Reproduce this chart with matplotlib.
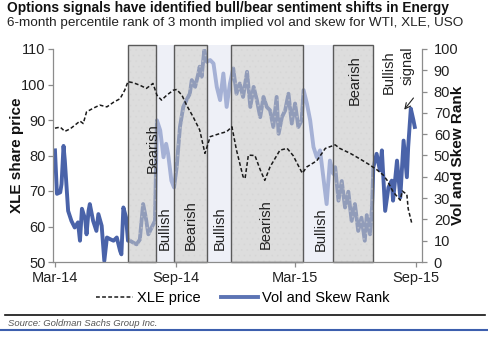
import numpy as np
import matplotlib
matplotlib.use("Agg")
import matplotlib.pyplot as plt
import matplotlib.dates as mdates
from matplotlib.patches import Rectangle
from matplotlib.lines import Line2D

plt.rcParams["font.family"] = ["Liberation Sans", "DejaVu Sans"]
plt.rcParams["hatch.linewidth"] = 0.6

# ---- data -------------------------------------------------------------
start = np.datetime64("2014-03-01")

# XLE share price (days after 1 Mar 2014)
xle_day = [0, 8, 15, 23, 30, 38, 43, 48, 58, 68,
           79, 89, 99, 106, 111, 119, 129, 139, 149, 155,
           162, 170, 180, 185, 193, 200, 210, 220, 228, 236,
           251, 261, 269, 276, 286, 289, 294, 304, 312, 319,
           327, 342, 353, 362, 376, 383, 398, 411, 426, 433,
           449, 464, 479, 490, 499, 505, 514, 525, 528, 535,
           537, 543]
xle_price = [87.7, 88, 86.8, 87.5, 88.5, 89.7, 89, 92.3, 93.3, 94.2,
             93.7, 95, 96, 98.4, 100.8, 100.5, 99.8, 98.9, 100.3, 97,
             95.6, 97, 98.4, 98.6, 97, 94.2, 90.9, 87.2, 80.6, 85.3,
             86.2, 86.7, 88.1, 81.5, 74, 73.5, 80.1, 80, 76, 73,
             76.8, 81.5, 82, 80, 75, 76.8, 78.5, 82, 83, 82,
             80.6, 79, 77.3, 75.9, 74.5, 73, 69.8, 67.4, 70, 69,
             65, 60.5]

# Vol and skew percentile rank (days after 1 Mar 2014)
rank_day = [0, 3, 8, 10, 13, 15, 20, 25, 30, 35,
            38, 41, 46, 48, 51, 53, 58, 63, 66, 71,
            75, 79, 84, 89, 94, 99, 101, 104, 108, 111,
            114, 119, 124, 129, 134, 138, 142, 147, 152, 155,
            160, 165, 169, 172, 177, 181, 185, 190, 195, 200,
            205, 208, 213, 218, 220, 223, 227, 231, 236, 241,
            246, 251, 256, 261, 266, 271, 276, 281, 286, 292,
            297, 302, 307, 312, 317, 322, 327, 332, 337, 340,
            345, 350, 355, 360, 365, 370, 375, 378, 383, 388,
            393, 398, 403, 408, 413, 418, 423, 426, 431, 436,
            441, 446, 451, 456, 461, 466, 471, 474, 479, 482,
            484, 489, 494, 497, 502, 507, 512, 514, 520, 525,
            530, 535, 537, 541, 545, 547]
rank_value = [52.4, 32, 32.7, 36.6, 54.5, 47.6, 24, 19.3, 16.2, 18.6,
              10, 25, 20, 13, 24, 27.2, 19.3, 14.6, 22.5, 17,
              0.5, 11.5, 10.7, 10, 11.5, 5.2, 3.6, 25.6, 21, 10,
              10, 9.1, 8.3, 10.5, 27.2, 21, 13, 16.2, 19.3, 66.5,
              61.8, 49.2, 55.5, 50.8, 38.2, 35, 44.5, 63.4, 72.8, 76,
              79, 85.4, 82.2, 88.5, 91.7, 87, 99.5, 94, 94.8, 93.2,
              82.2, 76, 88.5, 72.8, 83.8, 90.9, 79, 83.8, 77.5, 89.3,
              72.8, 82.2, 76, 68, 77.5, 72.8, 71.2, 63.4, 77.5, 60.2,
              68, 71.2, 79, 65, 74.4, 63.4, 66.5, 80.7, 74.4, 66.5,
              54, 49.2, 52.4, 39.8, 27.2, 47.6, 41.4, 44.5, 28.8, 38,
              25.6, 33, 19.3, 27.2, 14.6, 20.8, 10, 22, 13, 25.6,
              44.5, 50.8, 43, 52.4, 24, 35, 38.2, 28.8, 47.6, 30.3,
              57, 39.8, 54, 72, 66.5, 63.4]

# Sentiment regimes
regime_start = ["2014-06-20", "2014-08-02", "2014-08-29", "2014-10-18",
                "2014-11-24", "2015-03-13", "2015-04-28"]
regime_end = ["2014-08-02", "2014-08-29", "2014-10-18", "2014-11-24",
              "2015-03-13", "2015-04-28", "2015-06-28"]
regime_label = ["Bearish", "Bullish", "Bearish", "Bullish",
                "Bearish", "Bullish", "Bearish"]

tick_dates = ["2014-03-01", "2014-09-01", "2015-03-01", "2015-09-01"]

# ---- figure -------------------------------------------------------------
W, H = 488, 337
fig = plt.figure(figsize=(W / 100, H / 100), dpi=100)
ax = fig.add_axes([53 / W, 1 - 262 / H, (422 - 53) / W, (262 - 49) / H])
ax2 = ax.twinx()
ax.set_zorder(ax2.get_zorder() + 1)
ax.patch.set_visible(False)

xle_dates = start + np.array(xle_day).astype("timedelta64[D]")
rank_dates = start + np.array(rank_day).astype("timedelta64[D]")

dark_blue = "#4a63a9"
ax2.plot(rank_dates, rank_value, color=dark_blue, lw=2.8,
         solid_joinstyle="round", zorder=2)

# regime shading over the rank line
for s, e, lab in zip(regime_start, regime_end, regime_label):
    x0 = mdates.date2num(np.datetime64(s))
    x1 = mdates.date2num(np.datetime64(e))
    if lab == "Bearish":
        ax2.add_patch(Rectangle((x0, 0), x1 - x0, 102, facecolor="#c6c6c6",
                                alpha=0.58, lw=0, zorder=3, clip_on=False))
        ax2.add_patch(Rectangle((x0, 0), x1 - x0, 102, facecolor="none",
                                edgecolor="#d2d2d2", hatch="...", lw=0,
                                alpha=0.4, zorder=3.5, clip_on=False))
        ax2.add_patch(Rectangle((x0, 0), x1 - x0, 102, fill=False,
                                edgecolor="#5a5a5a", lw=1.0, zorder=4,
                                clip_on=False))
    else:
        ax2.add_patch(Rectangle((x0, 0), x1 - x0, 102, facecolor="#e3e6f3",
                                alpha=0.6, lw=0, zorder=3, clip_on=False))

ax.plot(xle_dates, xle_price, color="#1a1a1a", lw=1.1,
        linestyle=(0, (2.5, 1.5)), zorder=5)

# axes styling
ax.set_ylim(50, 110)
ax.set_yticks(np.arange(50, 111, 10))
ax2.set_ylim(0, 100)
ax2.set_yticks(np.arange(0, 101, 10))
ax.set_xlim(mdates.date2num(np.datetime64("2014-02-26")),
            mdates.date2num(np.datetime64("2015-09-10")))
ax.set_xticks([mdates.date2num(np.datetime64(d)) for d in tick_dates])
ax.xaxis.set_major_formatter(mdates.DateFormatter("%b-%y"))

for a in (ax, ax2):
    for side in ("top", "left", "right", "bottom"):
        a.spines[side].set_visible(False)
ax.spines["left"].set_visible(True)
ax.spines["bottom"].set_visible(True)
ax2.spines["right"].set_visible(True)
for sp in (ax.spines["left"], ax.spines["bottom"], ax2.spines["right"]):
    sp.set_color("#8c8c8c")
    sp.set_linewidth(0.9)

tick_font = 10.5
ax.tick_params(axis="both", colors="#8c8c8c", labelcolor="#222222",
               labelsize=tick_font, length=3.5, width=0.9, pad=2)
ax.tick_params(axis="x", pad=3)
ax2.tick_params(axis="y", colors="#8c8c8c", labelcolor="#222222",
                labelsize=tick_font, length=3.5, width=0.9, pad=5)

ax.set_ylabel("XLE share price", fontsize=11, fontweight="bold",
              color="#111111", labelpad=-2)
ax2.set_ylabel("Vol and Skew Rank", fontsize=11, fontweight="bold",
               color="#111111", labelpad=-5)

# regime labels
label_pos = [("2014-07-27", 148), ("2014-08-15", 228), ("2014-09-23", 225),
             ("2014-11-06", 228), ("2015-01-16", 224), ("2015-04-09", 229),
             ("2015-05-31", 80)]
for (d, ypx), lab in zip(label_pos, regime_label):
    yval = 110 - (ypx - 49) / (262 - 49) * 60
    ax.text(mdates.date2num(np.datetime64(d)), yval, lab, rotation=90,
            ha="center", va="center", fontsize=tick_font, color="#222222",
            zorder=6)

ax.text(mdates.date2num(np.datetime64("2015-07-22")), 110 - (72 - 49) / 213 * 60,
        "Bullish", rotation=90, ha="center", va="center",
        fontsize=tick_font, color="#222222", zorder=6, clip_on=False)
ax.text(mdates.date2num(np.datetime64("2015-08-19")), 110 - (66 - 49) / 213 * 60,
        "signal", rotation=90, ha="center", va="center",
        fontsize=tick_font, color="#222222", zorder=6, clip_on=False)
ax2.annotate("", xy=(mdates.date2num(np.datetime64("2015-08-14")), 71.5),
             xytext=(mdates.date2num(np.datetime64("2015-08-28")), 77),
             arrowprops=dict(arrowstyle="->", color="#222222", lw=0.8,
                             shrinkA=0, shrinkB=0))

# legend below the plot
handles = [Line2D([], [], color="#1a1a1a", lw=1.1, linestyle=(0, (2.5, 1.5))),
           Line2D([], [], color="#5c74b4", lw=2.8)]
fig.legend(handles, ["XLE price", "Vol and Skew Rank"], loc="center",
           bbox_to_anchor=(243 / W, 1 - 298 / H), ncol=2, frameon=False,
           fontsize=tick_font, handlelength=2.5, handletextpad=0.3,
           columnspacing=1.4, borderaxespad=0)

# title block
fig.text(7 / W, 1 - 8 / H, "Options signals have identified bull/bear sentiment shifts in Energy",
         fontsize=9.9, fontweight="bold", ha="left", va="center", color="#111111")
fig.text(7 / W, 1 - 23 / H, "6-month percentile rank of 3 month implied vol and skew for WTI, XLE, USO",
         fontsize=9.7, ha="left", va="center", color="#222222")

# footer rules and source
fig.add_artist(Line2D([5 / W, 485 / W], [1 - 315 / H] * 2, color="#111111", lw=1.2))
fig.text(8 / W, 1 - 323.5 / H, "Source: Goldman Sachs Group Inc.", fontsize=6.8,
         style="italic", ha="left", va="center", color="#555555")
fig.add_artist(Line2D([0, 1], [1 - 329.5 / H] * 2, color="#3d5fae", lw=1.5))

fig.savefig("out.png", dpi=100)
